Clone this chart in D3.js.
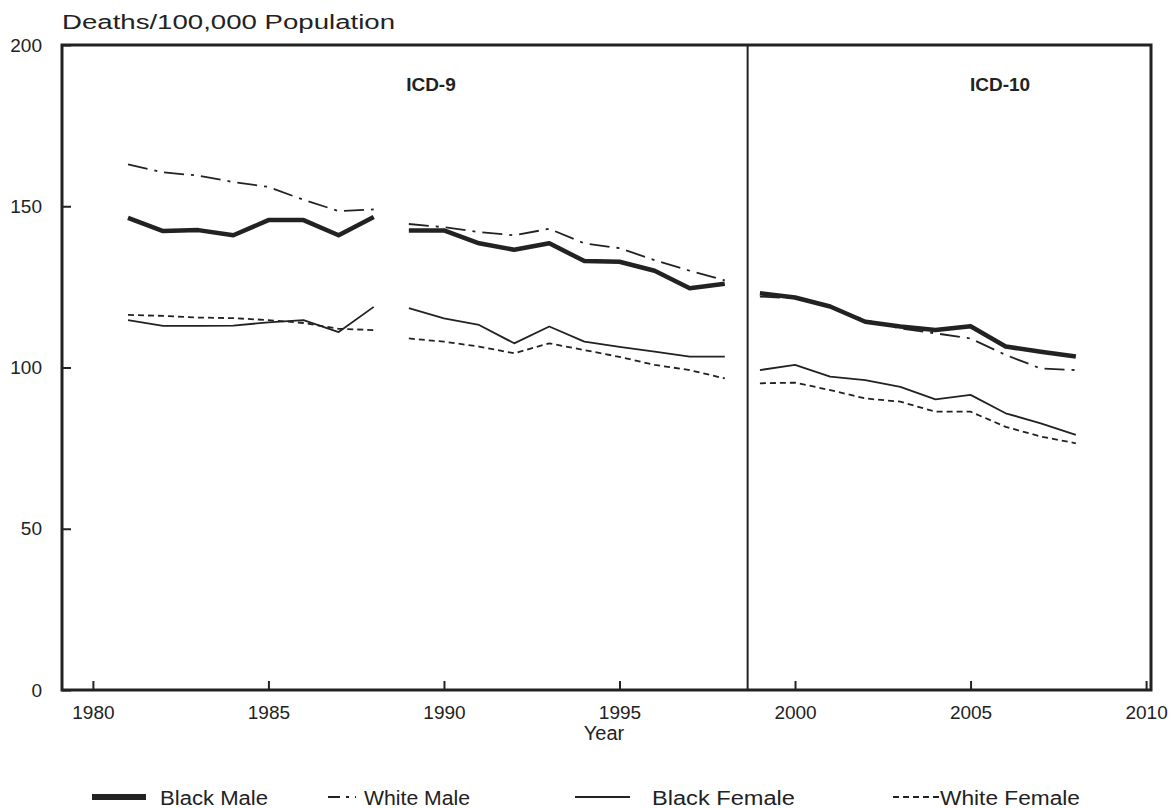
<!DOCTYPE html>
<html>
<head>
<meta charset="utf-8">
<script src="https://cdn.jsdelivr.net/npm/d3@7"></script>
<style>
  body { margin: 0; background: #fff; }
  svg text { font-family: "Liberation Sans Narrow", "Arial Narrow", "Liberation Sans", sans-serif; fill: #222; }
</style>
</head>
<body>
<div id="chart"></div>
<script>
// Segments by coding period
const years1 = [1981, 1982, 1983, 1984, 1985, 1986, 1987, 1988];
const years2 = [1989, 1990, 1991, 1992, 1993, 1994, 1995, 1996, 1997, 1998];
const years3 = [1999, 2000, 2001, 2002, 2003, 2004, 2005, 2006, 2007, 2008];

const blackMale1 = [146.4, 142.3, 142.6, 141, 145.7, 145.7, 141, 146.7];
const blackMale2 = [142.5, 142.5, 138.5, 136.5, 138.5, 133, 132.8, 130, 124.6, 126];
const blackMale3 = [123, 121.7, 118.9, 114.2, 112.7, 111.6, 112.8, 106.5, 104.9, 103.4];

const whiteMale1 = [163, 160.5, 159.5, 157.5, 156, 152, 148.5, 149];
const whiteMale2 = [144.5, 143.5, 142, 141, 143, 138.5, 137, 133.3, 130, 127];
const whiteMale3 = [122, 121.4, 118.9, 114.7, 112.1, 110.6, 109, 103.9, 99.7, 99.2];

const blackFemale1 = [114.7, 112.9, 112.9, 113, 114, 114.7, 111, 118.8];
const blackFemale2 = [118.4, 115.2, 113.2, 107.5, 112.7, 108, 106.4, 104.9, 103.4, 103.4];
const blackFemale3 = [99.2, 100.8, 97.2, 96.1, 94, 90.1, 91.5, 85.8, 82.7, 79.1];

const whiteFemale1 = [116.3, 116, 115.5, 115.3, 114.7, 113.8, 112, 111.6];
const whiteFemale2 = [109, 108, 106.5, 104.4, 107.5, 105.4, 103.3, 100.8, 99.2, 96.6];
const whiteFemale3 = [95.1, 95.3, 93, 90.4, 89.4, 86.3, 86.3, 81.6, 78.6, 76.5];

const xTicks = [1980, 1985, 1990, 1995, 2000, 2005, 2010];
const yTicks = [0, 50, 100, 150, 200];
const icdBreak = 1998.65;
const periods = [
  { label: "ICD-9", at: 1989.63 },
  { label: "ICD-10", at: 2005.84 },
];

const series = [
  { name: "Black Male", segs: [blackMale1, blackMale2, blackMale3], width: 4.5, dash: null },
  { name: "White Male", segs: [whiteMale1, whiteMale2, whiteMale3], width: 1.8, dash: "20,7,3,7" },
  { name: "Black Female", segs: [blackFemale1, blackFemale2, blackFemale3], width: 1.8, dash: null },
  { name: "White Female", segs: [whiteFemale1, whiteFemale2, whiteFemale3], width: 1.8, dash: "6,4" },
];
const segYears = [years1, years2, years3];

const width = 1171, height = 808;
const margin = { top: 45, right: 20, bottom: 118, left: 62 };

const svg = d3.select("#chart").append("svg")
  .attr("width", width).attr("height", height);

const x = d3.scaleLinear().domain([1979.12, 2010.14]).range([margin.left, width - margin.right]);
const y = d3.scaleLinear().domain([0, 200]).range([height - margin.bottom, margin.top]);

// lines
const line = d3.line().x((d) => x(d[0])).y((d) => y(d[1]));
series.forEach((s) => {
  s.segs.forEach((vals, k) => {
    svg.append("path")
      .datum(segYears[k].map((yr, j) => [yr, vals[j]]))
      .attr("d", line)
      .attr("fill", "none")
      .attr("stroke", "#222")
      .attr("stroke-width", s.width)
      .attr("stroke-linejoin", "round")
      .attr("stroke-dasharray", s.dash);
  });
});

// axes (ticks point inward)
const xAxis = svg.append("g")
  .attr("transform", `translate(0,${y(0)})`)
  .call(d3.axisBottom(x).tickValues(xTicks).tickFormat(d3.format("d")).tickSizeInner(-9).tickSizeOuter(0).tickPadding(16));
xAxis.select(".domain").remove();
xAxis.selectAll("line").attr("stroke", "#222").attr("stroke-width", 2);
xAxis.selectAll("text").attr("font-size", 19);

const yAxis = svg.append("g")
  .attr("transform", `translate(${x.range()[0]},0)`)
  .call(d3.axisLeft(y).tickValues(yTicks).tickSizeInner(-9).tickSizeOuter(0).tickPadding(20));
yAxis.select(".domain").remove();
yAxis.selectAll("line").attr("stroke", "#222").attr("stroke-width", 2);
yAxis.selectAll("text").attr("font-size", 19);

// frame
svg.append("rect")
  .attr("x", x.range()[0]).attr("y", y(200))
  .attr("width", x.range()[1] - x.range()[0]).attr("height", y(0) - y(200))
  .attr("fill", "none").attr("stroke", "#222").attr("stroke-width", 3);

// ICD divider
svg.append("line")
  .attr("x1", x(icdBreak)).attr("x2", x(icdBreak))
  .attr("y1", y(200)).attr("y2", y(0))
  .attr("stroke", "#222").attr("stroke-width", 2);

svg.selectAll("text.period").data(periods).join("text")
  .attr("class", "period")
  .attr("x", (d) => x(d.at))
  .attr("y", 91)
  .attr("text-anchor", "middle")
  .attr("font-size", 19)
  .attr("font-weight", "bold")
  .text((d) => d.label);

// titles
svg.append("text").attr("x", 62).attr("y", 29).attr("font-size", 20)
  .attr("textLength", 333).attr("lengthAdjust", "spacingAndGlyphs")
  .text("Deaths/100,000 Population");
svg.append("text").attr("x", 604).attr("y", 740).attr("text-anchor", "middle").attr("font-size", 20)
  .text("Year");

// legend
const legendX = [92, 328, 575, 893];
const legendTextX = [160, 364, 652, 940];
const legendTextW = [108, 106, 143, 140];
const swatchW = [54, 28, 55, 46];
series.forEach((s, i) => {
  svg.append("line")
    .attr("x1", legendX[i]).attr("x2", legendX[i] + swatchW[i])
    .attr("y1", 797).attr("y2", 797)
    .attr("stroke", "#222")
    .attr("stroke-width", i === 0 ? 6 : 2)
    .attr("stroke-dasharray", i === 1 ? "12,6,3,6" : s.dash);
  svg.append("text")
    .attr("x", legendTextX[i]).attr("y", 805).attr("font-size", 20)
    .attr("textLength", legendTextW[i]).attr("lengthAdjust", "spacingAndGlyphs")
    .text(s.name);
});
</script>
</body>
</html>
